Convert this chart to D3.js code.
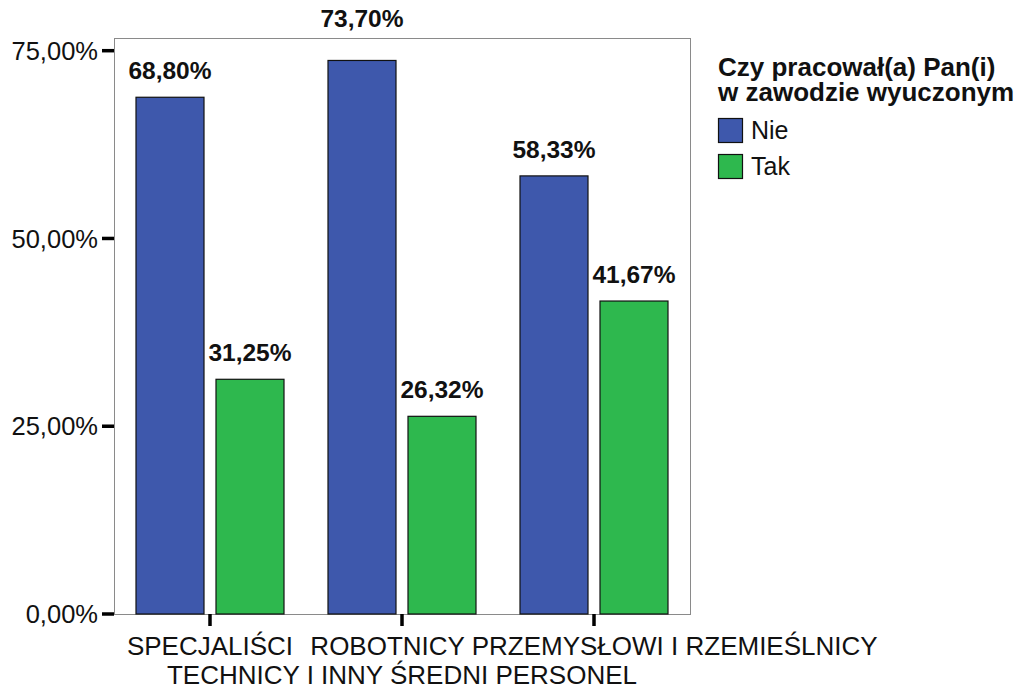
<!DOCTYPE html>
<html>
<head>
<meta charset="utf-8">
<script src="https://cdn.jsdelivr.net/npm/d3@7"></script>
<style>
  body { margin: 0; background: #fff; }
  svg { display: block; font-family: "Liberation Sans", Arial, sans-serif; }
</style>
</head>
<body>
<div id="chart"></div>
<script>
// data
const categories = ["SPECJALIŚCI", "TECHNICY I INNY ŚREDNI PERSONEL", "ROBOTNICY PRZEMYSŁOWI I RZEMIEŚLNICY"];
const seriesNames = ["Nie", "Tak"];
const nieValues = [68.80, 73.70, 58.33];
const takValues = [31.25, 26.32, 41.67];
const yTicks = [0, 25, 50, 75];
const legendTitle = ["Czy pracował(a) Pan(i)", "w zawodzie wyuczonym"];

const colors = { "Nie": "#3e58ac", "Tak": "#2eb84e" };

const width = 1016, height = 688;
const margin = { top: 38, right: 326, bottom: 74, left: 114 };
const plotW = width - margin.left - margin.right;
const plotH = height - margin.top - margin.bottom;

const svg = d3.select("#chart").append("svg")
    .attr("width", width)
    .attr("height", height);

const g = svg.append("g")
    .attr("transform", `translate(${margin.left},${margin.top})`);

const x = d3.scaleBand()
    .domain(categories)
    .range([0, plotW])
    .padding(0);

const xInner = d3.scaleBand()
    .domain(seriesNames)
    .range([22, x.bandwidth() - 22])
    .paddingInner(0.15);

const y = d3.scaleLinear()
    .domain([0, 76.69])
    .range([plotH, 0]);

const rows = categories.map((c, i) => ({ cat: c, values: [
    { key: "Nie", value: nieValues[i] },
    { key: "Tak", value: takValues[i] }
] }));

// frame
g.append("rect")
    .attr("x", 0.5)
    .attr("y", 0.5)
    .attr("width", plotW)
    .attr("height", plotH)
    .attr("fill", "none")
    .attr("stroke", "#8a8a8a")
    .attr("stroke-width", 1);

// bars
const groups = g.selectAll(".grp")
    .data(rows)
    .enter()
    .append("g")
    .attr("class", "grp")
    .attr("transform", d => `translate(${x(d.cat)},0)`);

groups.selectAll("rect")
    .data(d => d.values)
    .enter()
    .append("rect")
    .attr("x", d => xInner(d.key))
    .attr("y", d => y(d.value))
    .attr("width", xInner.bandwidth())
    .attr("height", d => plotH - y(d.value))
    .attr("fill", d => colors[d.key])
    .attr("stroke", "#111")
    .attr("stroke-width", 1.2);

// value labels; pushed above the frame if they would collide with it
groups.selectAll(".val")
    .data(d => d.values)
    .enter()
    .append("text")
    .attr("class", "val")
    .attr("x", d => xInner(d.key) + xInner.bandwidth() / 2)
    .attr("y", d => {
        const base = y(d.value) - 18;
        return base - 18 < 0 ? -11 : base;
    })
    .attr("text-anchor", "middle")
    .attr("font-size", "24.5px")
    .attr("font-weight", "bold")
    .attr("fill", "#111")
    .text(d => d.value.toFixed(2).replace(".", ",") + "%");

// y axis ticks
const yAxis = g.append("g");
yAxis.selectAll("line")
    .data(yTicks)
    .enter()
    .append("line")
    .attr("x1", -12)
    .attr("x2", 0)
    .attr("y1", d => y(d))
    .attr("y2", d => y(d))
    .attr("stroke", "#000")
    .attr("stroke-width", 3.5);
yAxis.selectAll("text")
    .data(yTicks)
    .enter()
    .append("text")
    .attr("x", -16)
    .attr("y", d => y(d))
    .attr("dy", "0.36em")
    .attr("text-anchor", "end")
    .attr("font-size", "25.5px")
    .attr("fill", "#111")
    .text(d => d.toFixed(2).replace(".", ",") + "%");

// x axis ticks and staggered labels
const xAxis = g.append("g").attr("transform", `translate(0,${plotH})`);
xAxis.selectAll("line")
    .data(categories)
    .enter()
    .append("line")
    .attr("x1", d => x(d) + x.bandwidth() / 2)
    .attr("x2", d => x(d) + x.bandwidth() / 2)
    .attr("y1", 0)
    .attr("y2", 12)
    .attr("stroke", "#000")
    .attr("stroke-width", 3.5);
xAxis.selectAll("text")
    .data(categories)
    .enter()
    .append("text")
    .attr("x", d => x(d) + x.bandwidth() / 2)
    .attr("y", (d, i) => i % 2 === 0 ? 41 : 70)
    .attr("text-anchor", "middle")
    .attr("font-size", "26px")
    .attr("fill", "#111")
    .text(d => d);

// legend
const legend = svg.append("g").attr("transform", "translate(718,0)");
legend.selectAll(".lt")
    .data(legendTitle)
    .enter()
    .append("text")
    .attr("class", "lt")
    .attr("x", 0)
    .attr("y", (d, i) => 76 + i * 25)
    .attr("font-size", "26px")
    .attr("font-weight", "bold")
    .attr("fill", "#111")
    .text(d => d);

const items = legend.selectAll(".li")
    .data(seriesNames)
    .enter()
    .append("g")
    .attr("class", "li")
    .attr("transform", (d, i) => `translate(0,${118 + i * 36})`);
items.append("rect")
    .attr("x", 0.5)
    .attr("y", 0.5)
    .attr("width", 24)
    .attr("height", 24)
    .attr("fill", d => colors[d])
    .attr("stroke", "#111")
    .attr("stroke-width", 1.2);
items.append("text")
    .attr("x", 33)
    .attr("y", 21)
    .attr("font-size", "25px")
    .attr("fill", "#111")
    .text(d => d);
</script>
</body>
</html>
